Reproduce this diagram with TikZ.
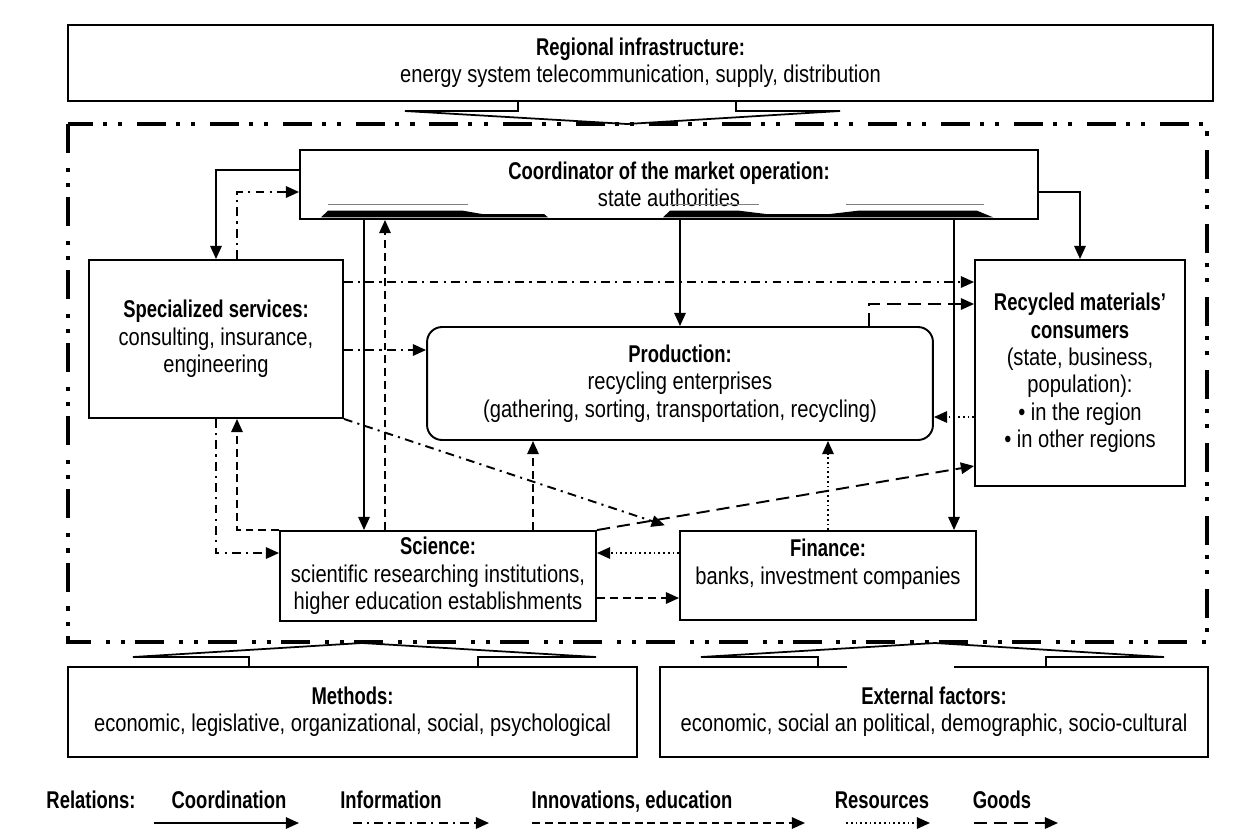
\documentclass[tikz,border=0pt]{standalone}
\usepackage{fontspec}
\setmainfont{Liberation Sans}[FakeStretch=0.83, BoldFeatures={FakeStretch=0.76}]
\usetikzlibrary{arrows.meta}

\begin{document}
\begin{tikzpicture}[
    x=0.02cm, y=-0.02cm,
    font=\fontsize{13.8}{15.6}\selectfont,
    box/.style={draw, line width=1.1pt, align=center, inner sep=0pt},
    coordarr/.style={line width=1.1pt, -{Triangle[length=7.5pt, width=6.5pt]}},
    infoarr/.style={coordarr, dash pattern=on 5pt off 3pt on 1.2pt off 3pt},
    innovarr/.style={coordarr, dash pattern=on 4.5pt off 2.8pt},
    resarr/.style={coordarr, line width=1pt, dash pattern=on 1pt off 1.7pt},
    goodsarr/.style={coordarr, dash pattern=on 7.5pt off 4pt},
    blockarr/.style={line width=1pt, line join=miter},
    framebox/.style={line width=1.8pt, dash pattern=on 16.5pt off 8.5pt on 2.3pt off 6.3pt on 2.3pt off 5.7pt},
    lbl/.style={font=\fontsize{13.8}{15.6}\selectfont\bfseries, anchor=base}
]
\useasboundingbox (0,0) rectangle (1250,836);

% === Regional infrastructure ===
\node[box, minimum width=22.9cm, minimum height=1.52cm] (infra) at (640.5,63)
    {\textbf{Regional infrastructure:}\\energy system telecommunication, supply, distribution};
\draw[blockarr] (518,0 |- infra.south) -- (518,111) -- (405,111) -- (627,124)
    -- (840,111) -- (736,111) -- (736,0 |- infra.south);

% === System boundary (dash-dot-dot) ===
\draw[framebox] (68,124) rectangle (1207,642);

% === Coordinator ===
\node[box, minimum width=14.76cm, minimum height=1.38cm] (coord) at (669,184.5)
    {\textbf{Coordinator of the market operation:}\\state authorities};
% smudges under the text
\fill (321,217.3) -- (328,210.7) -- (463,210.7) -- (482,214) -- (544,214) -- (548,217.3) -- cycle;
\fill (663,217.3) -- (670,210.7) -- (739,210.7) -- (766,214) -- (830,214) -- (858,210.7)
    -- (977,210.7) -- (993,217.3) -- cycle;
\draw[gray, line width=0.6pt] (328,204.3) -- (468,204.3);
\draw[gray, line width=0.6pt] (670,204.3) -- (759,204.3);
\draw[gray, line width=0.6pt] (846,204.3) -- (984,204.3);

% === Boxes inside ===
\node[box, minimum width=5.08cm, minimum height=3.16cm] (spec) at (216,339)
    {\textbf{Specialized services:}\\consulting, insurance,\\engineering};
\node[box, rounded corners=0.3cm, minimum width=10.12cm, minimum height=2.26cm] (prod) at (680,383.5)
    {\textbf{Production:}\\recycling enterprises\\(gathering, sorting, transportation, recycling)};
\node[box, minimum width=4.2cm, minimum height=4.52cm] (cons) at (1080,373)
    {\textbf{Recycled materials’}\\\textbf{consumers}\\(state, business,\\population):\\• in the region\\• in other regions};
\node[box, minimum width=6.32cm, minimum height=1.8cm] (sci) at (438,576)
    {\textbf{Science:}\\scientific researching institutions,\\higher education establishments};
\node[box, minimum width=5.92cm, minimum height=1.78cm] (fin) at (828,575.5)
    {\textbf{Finance:}\\banks, investment companies\\~};

% === Coordination ===
\draw[coordarr] (coord.west |- 0,170) -| (spec.north);
\draw[coordarr] (364,0 |- coord.south) -- (364,0 |- sci.north);
\draw[coordarr] (coord.south -| prod.north) -- (prod.north);
\draw[coordarr] (coord.east |- 0,192) -| (cons.north);
\draw[coordarr] (954,0 |- coord.south) -- (954,0 |- fin.north);

% === Information ===
\draw[infoarr] (237,0 |- spec.north) |- (coord.west |- 0,192);
\draw[infoarr] (spec.east |- 0,282) -- (cons.west |- 0,282);
\draw[infoarr] (spec.east |- 0,350) -- (prod.west |- 0,350);
\draw[infoarr, shorten >=0.3cm] (spec.south east) -- (fin.north west);
\draw[infoarr] (spec.south) |- (sci.west |- 0,553);

% === Innovations, education ===
\draw[innovarr] (385,0 |- sci.north) -- (385,0 |- coord.south);
\draw[innovarr] (sci.north west) -| (237,0 |- spec.south);
\draw[innovarr] (533,0 |- sci.north) -- (533,0 |- prod.south);
\draw[innovarr] (sci.east |- 0,598) -- (fin.west |- 0,598);

% === Resources ===
\draw[resarr] (cons.west |- 0,417) -- (prod.east |- 0,417);
\draw[resarr] (fin.west |- 0,553) -- (sci.east |- 0,553);
\draw[resarr] (fin.north) -- (fin.north |- prod.south);

% === Goods ===
\draw[goodsarr] (869,0 |- prod.north) |- (cons.west |- 0,304);
\draw[goodsarr] (sci.north east) -- (cons.west |- 0,466);

% === Methods / External factors ===
\node[box, minimum width=11.38cm, minimum height=1.8cm] (meth) at (352.5,712)
    {\textbf{Methods:}\\economic, legislative, organizational, social, psychological};
\node[box, minimum width=10.96cm, minimum height=1.8cm] (ext) at (934,712)
    {\textbf{External factors:}\\economic, social an political, demographic, socio-cultural};
\draw[white, line width=2pt] (847,0 |- ext.north) -- (954,0 |- ext.north);
\draw[blockarr] (249,0 |- meth.north) -- (249,657) -- (133,657) -- (362,643)
    -- (596,657) -- (478,657) -- (478,0 |- meth.north);
\draw[blockarr] (818,0 |- ext.north) -- (818,657) -- (701,657) -- (935,643)
    -- (1164,657) -- (1046,657) -- (1046,0 |- ext.north);

% === Legend ===
\node[lbl] (rel) at (91,808) {Relations:};
\node[lbl] (lcoord) at (229,808) {Coordination};
\node[lbl] (linfo) at (391,808) {Information};
\node[lbl] (linnov) at (632,808) {Innovations, education};
\node[lbl] (lres) at (882,808) {Resources};
\node[lbl] (lgoods) at (1002,808) {Goods};
\foreach \st/\xa/\xb in {coordarr/154/299, infoarr/353/489, innovarr/532/805,
    resarr/846/930, goodsarr/974/1058}
  \draw[\st] (\xa,823) -- (\xb,823);

\end{tikzpicture}
\end{document}
